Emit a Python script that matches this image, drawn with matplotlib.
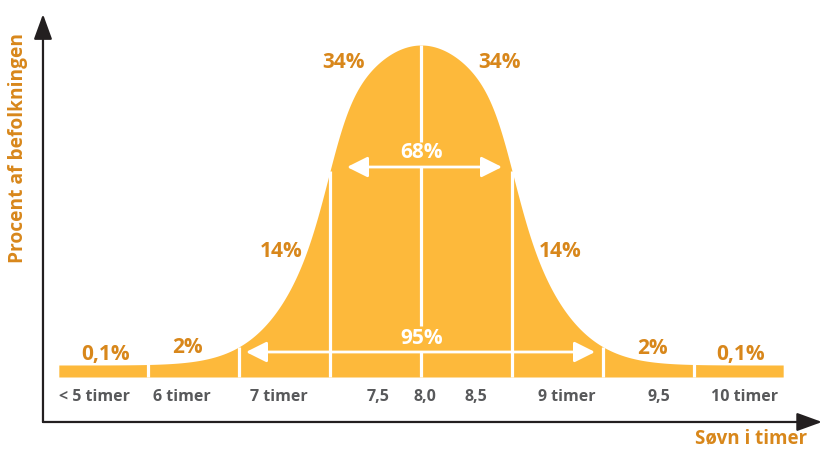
import numpy as np
import matplotlib
matplotlib.use("Agg")
import matplotlib.pyplot as plt

# --- data -----------------------------------------------------------------
# Share of the population in each one-sigma band (left to right)
band_labels = ["0,1%", "2%", "14%", "34%", "34%", "14%", "2%", "0,1%"]
band_label_z = [-3.47, -2.57, -1.54, -0.85, 0.86, 1.53, 2.54, 3.51]
band_label_y = [0.069, 0.090, 0.377, 0.946, 0.946, 0.377, 0.087, 0.069]

# Sleep-hour labels under the curve
hour_labels = ["< 5 timer", "6 timer", "7 timer", "7,5", "8,0", "8,5",
               "9 timer", "9,5", "10 timer"]
hour_label_z = [-3.59, -2.63, -1.56, -0.47, 0.04, 0.60, 1.60, 2.61, 3.56]

# Central intervals
inner_share = "68%"
outer_share = "95%"

# Band edges in standard deviations
band_edges = [-3, -2, -1, 0, 1, 2, 3]

# --- styling --------------------------------------------------------------
FILL = "#FDB93B"
ORANGE_TXT = "#D8871B"
GRAY_TXT = "#58595B"
AXIS = "#231F20"
FONT = ["Open Sans", "DejaVu Sans"]

plt.rcParams["font.family"] = FONT

fig = plt.figure(figsize=(8.23, 4.49), dpi=100)
ax = fig.add_axes([0, 0, 1, 1])
ax.set_xlim(-421 / 91, (823 - 421) / 91)
ax.set_ylim((377 - 449) / 332, 377 / 332)
ax.axis("off")

BASE = 12 / 332  # thickness of the flat strip under the curve


def bell(z):
    """Stylised bell curve: flat-topped near the mean, normal in the tails."""
    d = np.abs(z)
    s = 0.835 + 0.549 / (1 + np.exp((d - 0.879) / 0.143))
    return BASE + (1 - BASE) * np.exp(-d ** 2 / (2 * s ** 2))


z = np.linspace(-3.98, 3.98, 2000)
ax.fill_between(z, 0, bell(z), color=FILL, lw=0)

# white band separators
for e in band_edges:
    if e == 0:
        continue
    ax.vlines(e, 0, bell(e), color="white", lw=2.3)

# centre line, interrupted by the interval labels
for y0, y1 in [(0, 0.0753), (0.1536, 0.6325), (0.708, 1.0)]:
    ax.vlines(0, y0, y1, color="white", lw=2.3)

# interval arrows
arrow_kw = dict(arrowstyle="<|-|>,head_length=0.9,head_width=0.45",
                color="white", lw=2.0, shrinkA=0, shrinkB=0,
                mutation_scale=14)
ax.annotate("", xy=(0.89, 0.6325), xytext=(-0.813, 0.6325),
            arrowprops=arrow_kw)
ax.annotate("", xy=(1.912, 0.0753), xytext=(-1.923, 0.0753),
            arrowprops=arrow_kw)
ax.text(0.0, 0.675, inner_share, color="white", fontsize=15,
        fontweight="bold", ha="center", va="center")
ax.text(0.01, 0.117, outer_share, color="white", fontsize=15,
        fontweight="bold", ha="center", va="center")

for lab, zx, zy in zip(band_labels, band_label_z, band_label_y):
    ax.text(zx, zy, lab, color=ORANGE_TXT, fontsize=15, fontweight="bold",
            ha="center", va="center")

for lab, zx in zip(hour_labels, hour_label_z):
    ax.text(zx, -0.0602, lab, color=GRAY_TXT, fontsize=11.5,
            fontweight="bold", ha="center", va="center")

# axes with arrow heads
ox, oy = -4.154, -0.1355
axis_kw = dict(arrowstyle="-|>,head_length=1.1,head_width=0.4",
               color=AXIS, lw=1.6, shrinkA=0, shrinkB=0, mutation_scale=14)
ax.annotate("", xy=(ox, 1.093), xytext=(ox, oy), arrowprops=axis_kw)
ax.annotate("", xy=(4.407, oy), xytext=(ox, oy), arrowprops=axis_kw)

ax.text(-4.429, 0.69, "Procent af befolkningen", color=ORANGE_TXT,
        fontsize=13.8, fontweight="bold", rotation=90, ha="center",
        va="center")
ax.text(4.242, -0.1837, "Søvn i timer", color=ORANGE_TXT, fontsize=13.5,
        fontweight="bold", ha="right", va="center")

fig.savefig("out.png", dpi=100)
